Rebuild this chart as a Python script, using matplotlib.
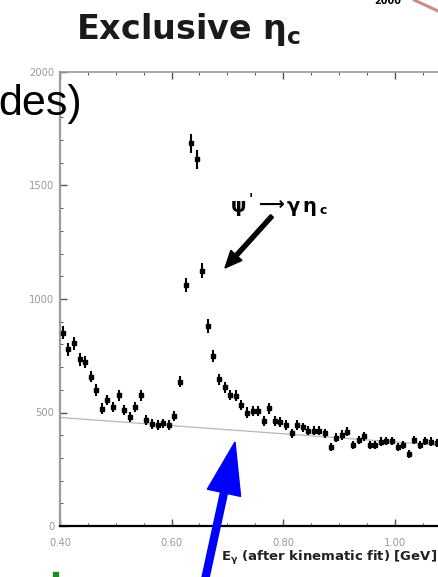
import numpy as np
import matplotlib
matplotlib.use("Agg")
import matplotlib.pyplot as plt
from matplotlib.patches import FancyArrow

plt.rcParams["mathtext.fontset"] = "custom"
plt.rcParams["mathtext.bf"] = "DejaVu Sans:bold"
plt.rcParams["mathtext.rm"] = "DejaVu Sans"

# Photon energy bin centres [GeV] and event counts per bin
energy = [0.405, 0.415, 0.425, 0.435, 0.445, 0.455, 0.465, 0.475, 0.485, 0.495,
          0.505, 0.515, 0.525, 0.535, 0.545, 0.555, 0.565, 0.575, 0.585, 0.595,
          0.605, 0.615, 0.625, 0.635, 0.645, 0.655, 0.665, 0.675, 0.685, 0.695,
          0.705, 0.715, 0.725, 0.735, 0.745, 0.755, 0.765, 0.775, 0.785, 0.795,
          0.805, 0.815, 0.825, 0.835, 0.845, 0.855, 0.865, 0.875, 0.885, 0.895,
          0.905, 0.915, 0.925, 0.935, 0.945, 0.955, 0.965, 0.975, 0.985, 0.995,
          1.005, 1.015, 1.025, 1.035, 1.045, 1.055, 1.065, 1.075]
counts = [851, 778, 805, 734, 721, 658, 599, 517, 555, 523,
          576, 511, 479, 524, 576, 467, 449, 445, 452, 445,
          486, 636, 1062, 1686, 1615, 1125, 882, 749, 646, 611,
          577, 574, 533, 500, 508, 508, 464, 518, 464, 457,
          445, 408, 445, 435, 420, 420, 420, 408, 349, 389,
          401, 415, 357, 379, 396, 357, 357, 371, 374, 374,
          349, 357, 317, 379, 357, 374, 372, 365]
errors = np.sqrt(counts)

# Straight-line background estimate
bkg_energy = [0.40, 1.08]
bkg_counts = [478, 356]

x_ticks = [0.40, 0.60, 0.80, 1.00]
x_ticklabels = ["0.40", "0.60", "0.80", "1.00"]
y_ticks = [0, 500, 1000, 1500, 2000]
y_ticklabels = ["0", "500", "1000", "1500", "2000"]

W, H = 438, 577
fig = plt.figure(figsize=(W / 100, H / 100), dpi=100)
fig.patch.set_facecolor("white")

ax = fig.add_axes([60 / W, 1 - 526 / H, 1 - 60 / W, (526 - 72) / H])
ax.plot(bkg_energy, bkg_counts, color="#b8b8b8", lw=0.9, zorder=1)
ax.errorbar(energy, counts, yerr=errors, fmt="s", color="black", ms=2.4,
            elinewidth=1.5, capsize=0, zorder=3)

ax.set_xlim(0.40, 0.40 + (W - 60) / 558)
ax.set_ylim(0, 2000)
ax.set_xticks(x_ticks)
ax.set_xticklabels(x_ticklabels)
ax.set_yticks(y_ticks)
ax.set_yticklabels(y_ticklabels)
ax.set_xticks(np.arange(0.40, 1.08, 0.05), minor=True)
ax.set_yticks(np.arange(0, 2001, 100), minor=True)
ax.tick_params(which="both", direction="in", top=True, right=False,
               colors="#555555", labelcolor="#9a9a9a", labelsize=7.2)
ax.tick_params(axis="x", which="major", pad=9)
ax.tick_params(axis="y", which="major", pad=4)
ax.tick_params(which="major", length=5, width=1.0)
ax.tick_params(which="minor", length=2.5, width=0.7)
ax.spines["right"].set_visible(False)
ax.spines["left"].set_color("#9a9a9a")
ax.spines["left"].set_linewidth(1.6)
ax.spines["top"].set_color("#9a9a9a")
ax.spines["top"].set_linewidth(1.2)
ax.spines["bottom"].set_color("black")
ax.spines["bottom"].set_linewidth(1.6)

# Overlay in pixel units for the slide decorations
ov = fig.add_axes([0, 0, 1, 1], facecolor="none")
ov.set_xlim(0, W)
ov.set_ylim(H, 0)
ov.axis("off")

ov.text(189, 30, r"Exclusive η$_{\mathbf{c}}$", fontsize=24, fontweight="bold",
        family="DejaVu Sans", ha="center", va="center", color="#1a1a1a")
ov.text(82, 104, "des)", fontsize=31, family="Liberation Sans",
        ha="right", va="center", color="black")

# Decay label: ψ' → γ η_c
lbl = dict(fontweight="bold", family="DejaVu Sans", va="center", color="black")
ov.text(231, 206, "ψ", fontsize=14, ha="left", **lbl)
ov.text(249, 199, "'", fontsize=10, ha="left", **lbl)
ov.text(259, 205, "⟶", fontsize=13, ha="left", **lbl)
ov.text(287, 207, "γ", fontsize=14, ha="left", **lbl)
ov.text(302, 207, "η", fontsize=14, ha="left", **lbl)
ov.text(319, 211, "c", fontsize=9, ha="left", **lbl)

ov.text(437, 558, r"E$_{\mathbf{γ}}$ (after kinematic fit) [GeV]", fontsize=9.5,
        fontweight="bold", family="DejaVu Sans", ha="right", va="center",
        color="#222222")
ov.text(388, 1, "2000", fontsize=7, fontweight="bold", family="DejaVu Sans",
        ha="center", va="center", color="black")
ov.plot([414, 425, 438], [0, 5, 11], color="#d08888", lw=2.2,
        solid_capstyle="round")

ov.add_patch(FancyArrow(272, 216, -47, 52, width=4, head_width=15,
                        head_length=17, length_includes_head=True,
                        color="black"))
ov.add_patch(FancyArrow(205, 580, 30, -138, width=7, head_width=34,
                        head_length=52, length_includes_head=True,
                        color="#0000ff", zorder=5))
ov.add_patch(plt.Rectangle((53, 572), 5, 5, color="#1a8a1a"))

fig.savefig("out.png", dpi=100)
